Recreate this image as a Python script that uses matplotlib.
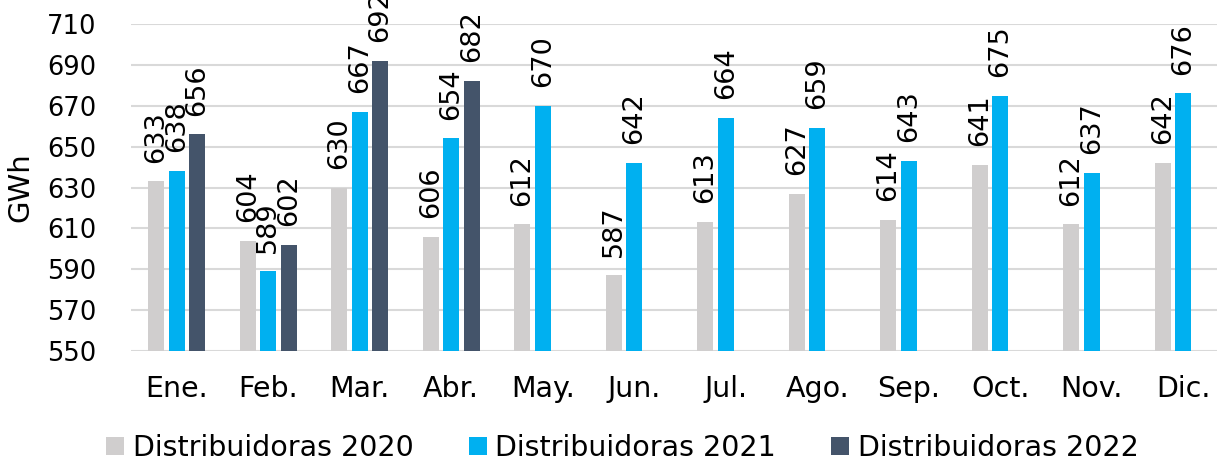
import matplotlib
matplotlib.use("Agg")
import matplotlib.pyplot as plt
import numpy as np

months = ["Ene.", "Feb.", "Mar.", "Abr.", "May.", "Jun.", "Jul.", "Ago.", "Sep.", "Oct.", "Nov.", "Dic."]
series_names = ["Distribuidoras 2020", "Distribuidoras 2021", "Distribuidoras 2022"]
d2020 = [633, 604, 630, 606, 612, 587, 613, 627, 614, 641, 612, 642]
d2021 = [638, 589, 667, 654, 670, 642, 664, 659, 643, 675, 637, 676]
d2022 = [656, 602, 692, 682]
colors = ["#D0CECE", "#00B0F0", "#44546A"]
yticks = [550, 570, 590, 610, 630, 650, 670, 690, 710]

plt.rcParams['font.family'] = ['DejaVu Sans']
fig = plt.figure(figsize=(12.17, 4.61), dpi=100)
AX_L, AX_W = 131, 1098
ax = fig.add_axes([AX_L/1217, 1-351/461, AX_W/1217, (351-24)/461])

x = np.arange(len(months))
w = 0.175
step = 0.224
for i, (vals, c, name) in enumerate(zip([d2020, d2021, d2022], colors, series_names)):
    xs = x[:len(vals)] + (i - 1) * step
    ax.bar(xs, vals, width=w, color=c, label=name, zorder=3)
    for xx, v in zip(xs, vals):
        ax.annotate(str(v), (xx, v), xytext=(0, 13.5), textcoords="offset points",
                    rotation=90, ha="center", va="bottom", fontsize=19.5,
                    color="#000000", annotation_clip=False)

ax.set_ylim(550, 710)
ax.set_xlim(-0.5, 11.5)
ax.set_yticks(yticks)
ax.set_xticks(x)
ax.set_xticklabels(months, fontsize=20.5)
ax.tick_params(axis="y", labelsize=18.5, length=0, pad=25)
ax.tick_params(axis="x", length=0, pad=17)
ax.grid(axis="y", color="#D9D9D9", linewidth=1.5, zorder=0)
for s in ax.spines.values():
    s.set_visible(False)
ax.set_ylabel("GWh", fontsize=21)
ax.yaxis.set_label_coords(-(AX_L - 34) / AX_W, 0.5)

fig.legend(loc="lower left", bbox_to_anchor=(95/1217, -0.027), ncol=3, frameon=False,
           fontsize=20.5, handlelength=0.62, handleheight=0.62, handletextpad=0.3,
           columnspacing=1.95, borderaxespad=0)

fig.savefig("out.png", dpi=100)
